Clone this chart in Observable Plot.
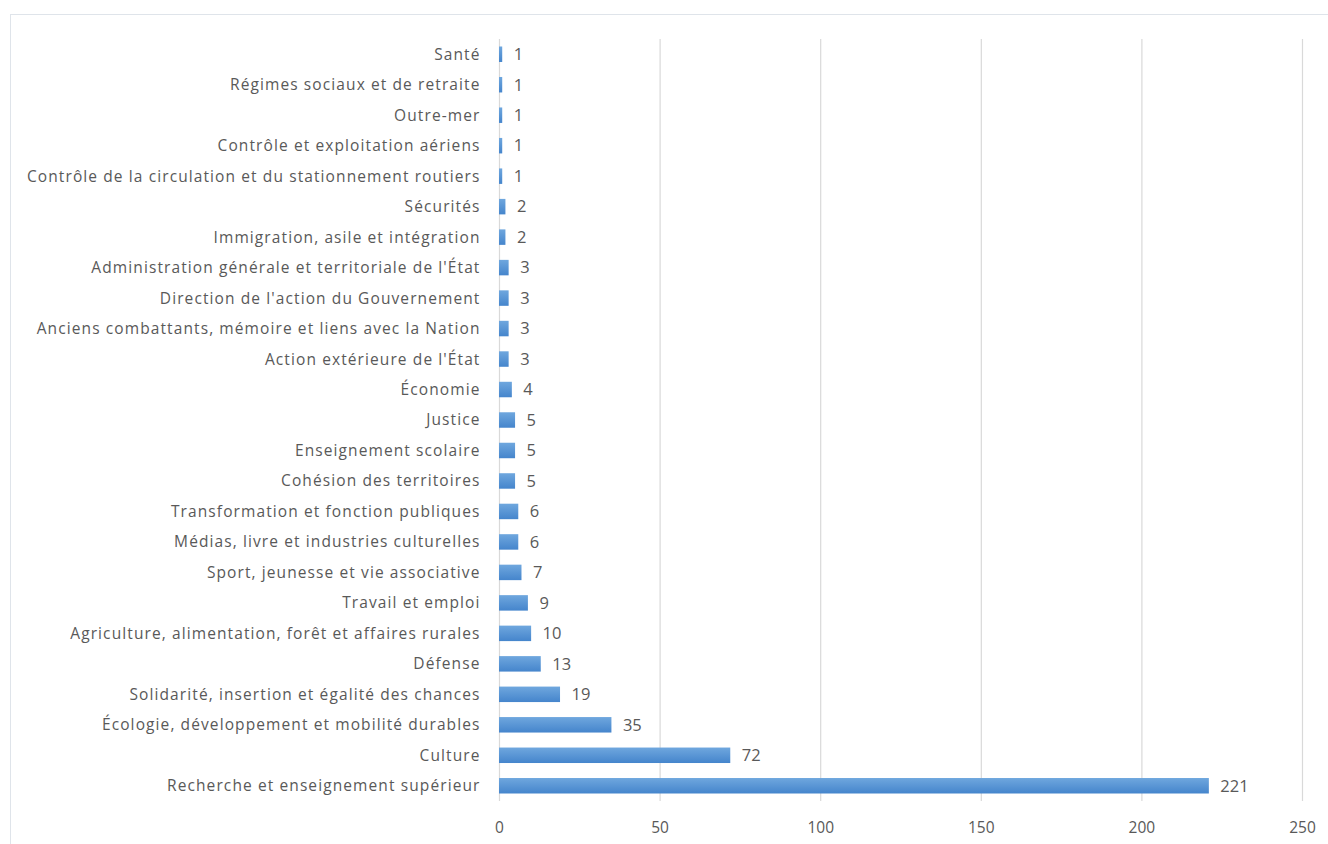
<!DOCTYPE html>
<html><head><meta charset="utf-8">
<script src="https://cdn.jsdelivr.net/npm/d3@7"></script>
<script src="https://cdn.jsdelivr.net/npm/@observablehq/plot@0.6"></script>
<style>
html,body{margin:0;padding:0;background:#fff;width:1328px;height:844px;overflow:hidden;}
#frame{position:absolute;left:10px;top:14px;width:1340px;height:860px;border:1px solid #dfe4ea;box-sizing:border-box;}
#chart{position:absolute;left:0;top:0;}
</style></head><body>
<div id="frame"></div>
<div id="chart"></div>
<script>
const categories = [
"Santé","Régimes sociaux et de retraite","Outre-mer","Contrôle et exploitation aériens",
"Contrôle de la circulation et du stationnement routiers","Sécurités","Immigration, asile et intégration",
"Administration générale et territoriale de l'État","Direction de l'action du Gouvernement",
"Anciens combattants, mémoire et liens avec la Nation","Action extérieure de l'État","Économie",
"Justice","Enseignement scolaire","Cohésion des territoires","Transformation et fonction publiques",
"Médias, livre et industries culturelles","Sport, jeunesse et vie associative","Travail et emploi",
"Agriculture, alimentation, forêt et affaires rurales","Défense","Solidarité, insertion et égalité des chances",
"Écologie, développement et mobilité durables","Culture","Recherche et enseignement supérieur"];
const values = [1,1,1,1,1,2,2,3,3,3,3,4,5,5,5,6,6,7,9,10,13,19,35,72,221];
const xTicks = [0,50,100,150,200,250];
const data = categories.map((c,i)=>({cat:c, v:values[i]}));

const chart = Plot.plot({
  width: 1328, height: 844,
  marginLeft: 499, marginRight: 26, marginTop: 39, marginBottom: 43,
  style: {fontFamily: "'Open Sans', sans-serif", fontSize: "15px", color: "#595959", background: "transparent"},
  x: {domain: [0,250], ticks: xTicks, label: null, grid: false},
  y: {domain: categories, label: null, padding: 0, round: false},
  marks: [
    Plot.ruleX(xTicks, {stroke: "#d9d9d9", strokeWidth: 1.2}),
    Plot.barX(data, {x: "v", y: "cat", fill: "url(#barGrad)", insetTop: 7.5, insetBottom: 7.5}),
    Plot.text(data, {x: "v", y: "cat", text: d => String(d.v), textAnchor: "start", dx: 11, fill: "#595959", fontSize: 16.5}),
    Plot.axisY({tickSize: 0, tickPadding: 19, fontSize: 15.5, fill: "#595959", className: "ylab"}),
    Plot.axisX(xTicks, {tickSize: 0, tickPadding: 20, fontSize: 15.5, fill: "#595959"})
  ]
});
const ns = "http://www.w3.org/2000/svg";
const defs = document.createElementNS(ns, "defs");
defs.innerHTML = '<linearGradient id="barGrad" x1="0" y1="0" x2="0" y2="1"><stop offset="0" stop-color="#6fa7de"/><stop offset="1" stop-color="#4585cc"/></linearGradient>';
chart.insertBefore(defs, chart.firstChild);
const st = document.createElementNS(ns, "style");
st.textContent = ".ylab text{letter-spacing:1.1px;}";
chart.appendChild(st);
document.getElementById("chart").appendChild(chart);
</script>
</body></html>
